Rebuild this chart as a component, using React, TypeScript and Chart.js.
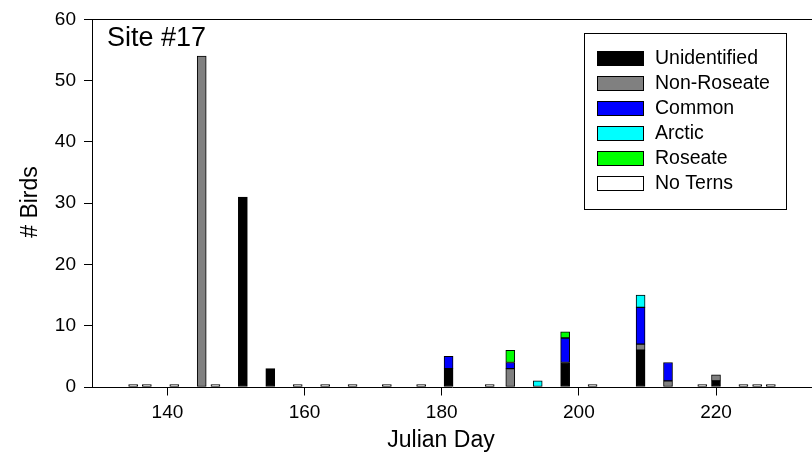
import React, { useEffect, useRef } from "react";
import { Chart, registerables } from "chart.js";

Chart.register(...registerables);

// Julian days with a bar or a "No Terns" marker
const days = [135, 137, 141, 145, 147, 151, 155, 159, 163, 167, 172, 177, 181, 187, 190, 194, 198, 202, 209, 213, 218, 220, 224, 226, 228];
//                     135   137   141   145   147   151   155   159   163   167   172   177   181   187   190   194   198   202   209   213   218   220   224   226   228
const unidentified = [null, null, null, null, null, 31, 3, null, null, null, null, null, 3, null, null, null, 4, null, 6, null, null, 1, null, null, null];
const nonRoseate = [null, null, null, 54, null, null, null, null, null, null, null, null, null, null, 3, null, null, null, 1, 1, null, 1, null, null, null];
const common = [null, null, null, null, null, null, null, null, null, null, null, null, 2, null, 1, null, 4, null, 6, 3, null, null, null, null, null];
const arctic = [null, null, null, null, null, null, null, null, null, null, null, null, null, null, null, 1, null, null, 2, null, null, null, null, null, null];
const roseate = [null, null, null, null, null, null, null, null, null, null, null, null, null, null, 2, null, 1, null, null, null, null, null, null, null, null];
const noTerns = [0.4, 0.4, 0.4, null, 0.4, null, null, 0.4, 0.4, 0.4, 0.4, 0.4, null, 0.4, null, null, null, 0.4, null, null, 0.4, null, 0.4, 0.4, 0.4];

const seriesLabels = ["Unidentified", "Non-Roseate", "Common", "Arctic", "Roseate", "No Terns"];
const seriesColors = ["#000000", "#808080", "#0000ff", "#00ffff", "#00ff00", "#ffffff"];
const seriesValues = [unidentified, nonRoseate, common, arctic, roseate, noTerns];

const xTicks = [140, 160, 180, 200, 220];
const yTicks = [0, 10, 20, 30, 40, 50, 60];

const FONT = "'Liberation Sans', Arial, sans-serif";
const TICK_LEN = 8;

export default function App() {
  const ref = useRef<HTMLCanvasElement>(null);

  useEffect(() => {
    const canvas = ref.current;
    if (!canvas) return;

    const overlay = {
      id: "overlay",
      afterDraw(chart: any) {
        const ctx = chart.ctx as CanvasRenderingContext2D;
        const a = chart.chartArea;
        const xs = chart.scales.x;
        const ys = chart.scales.y;
        ctx.save();
        ctx.strokeStyle = "#000";
        ctx.lineWidth = 1;
        const topY = Math.round(a.top - 0.5) + 0.5;
        const botY = Math.round(a.bottom - 0.5) + 0.5;
        const leftX = Math.round(a.left - 0.5) + 0.5;
        ctx.beginPath();
        // top frame line
        ctx.moveTo(a.left, topY);
        ctx.lineTo(a.right, topY);
        // x tick marks
        xTicks.forEach((v) => {
          const px = Math.round(xs.getPixelForValue(v) - 0.5) + 0.5;
          ctx.moveTo(px, botY);
          ctx.lineTo(px, botY + TICK_LEN);
        });
        // y tick marks
        yTicks.forEach((v) => {
          const py = Math.round(ys.getPixelForValue(v) - 0.5) + 0.5;
          ctx.moveTo(leftX, py);
          ctx.lineTo(leftX - TICK_LEN, py);
        });
        ctx.stroke();

        ctx.fillStyle = "#000";
        // panel label
        ctx.font = `27px ${FONT}`;
        ctx.textAlign = "left";
        ctx.textBaseline = "middle";
        ctx.fillText("Site #17", 107, 39);

        // axis titles
        ctx.font = `23px ${FONT}`;
        ctx.textAlign = "center";
        ctx.fillText("Julian Day", 441, 441);
        ctx.save();
        ctx.translate(31, 202);
        ctx.rotate(-Math.PI / 2);
        ctx.fillText("# Birds", 0, 0);
        ctx.restore();

        // legend
        ctx.strokeRect(584.5, 33.5, 202, 176);
        ctx.font = `19.5px ${FONT}`;
        ctx.textAlign = "left";
        seriesLabels.forEach((lab, i) => {
          const cy = 58 + i * 25;
          ctx.fillStyle = seriesColors[i];
          ctx.fillRect(597, cy - 7, 47, 15);
          ctx.strokeStyle = "#000";
          ctx.strokeRect(597.5, cy - 6.5, 46, 14);
          ctx.fillStyle = "#000";
          ctx.fillText(lab, 655, cy + 1);
        });
        ctx.restore();
      },
    };

    const chart = new Chart(canvas, {
      type: "bar",
      data: {
        datasets: seriesValues.map((vals, si) => ({
          label: seriesLabels[si],
          data: days
            .map((d, i) => (vals[i] == null ? null : { x: d, y: vals[i] as number }))
            .filter((p) => p !== null) as any,
          backgroundColor: seriesColors[si],
          borderColor: "#000000",
          borderWidth: 1,
          borderSkipped: false,
          barThickness: 9,
        })),
      },
      options: {
        animation: false,
        responsive: false,
        maintainAspectRatio: false,
        layout: { padding: { top: 17, left: 0, right: 0, bottom: 0 } },
        plugins: { legend: { display: false }, tooltip: { enabled: false } },
        scales: {
          x: {
            type: "linear",
            min: 129,
            max: 234,
            stacked: true,
            offset: false,
            grid: { offset: false, drawOnChartArea: false, tickLength: TICK_LEN, color: "#000", lineWidth: 1 },
            border: { display: true, color: "#000", width: 1 },
            ticks: { color: "#000", font: { family: FONT, size: 19 }, padding: 6, maxRotation: 0 },
            afterBuildTicks: (s: any) => {
              s.ticks = xTicks.map((v) => ({ value: v }));
            },
            afterFit: (s: any) => {
              s.height = 89;
            },
          },
          y: {
            min: 0,
            max: 60,
            stacked: true,
            grid: { offset: false, drawOnChartArea: false, tickLength: TICK_LEN, color: "#000", lineWidth: 1 },
            border: { display: true, color: "#000", width: 1 },
            ticks: { color: "#000", font: { family: FONT, size: 19 }, padding: 8 },
            afterBuildTicks: (s: any) => {
              s.ticks = yTicks.map((v) => ({ value: v }));
            },
            afterFit: (s: any) => {
              s.width = 92;
            },
          },
        },
      },
      plugins: [overlay],
    });

    return () => chart.destroy();
  }, []);

  return (
    <div style={{ position: "absolute", left: 0, top: 0, width: 812, height: 476, background: "#fff" }}>
      <canvas ref={ref} width={812} height={476} style={{ display: "block" }} />
    </div>
  );
}
